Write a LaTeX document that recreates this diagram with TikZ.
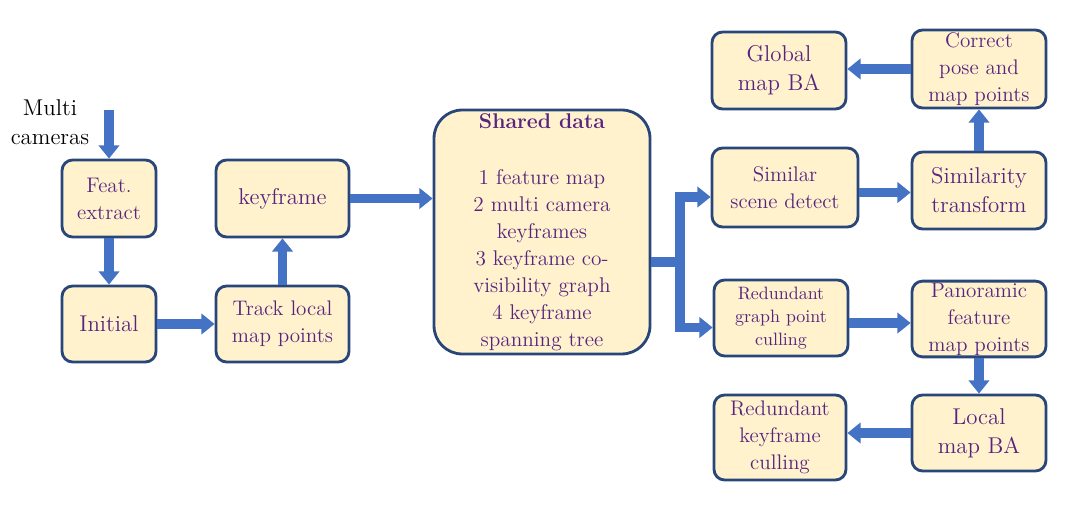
\documentclass[tikz,border=0pt]{standalone}
\usepackage{fontspec}
\usetikzlibrary{arrows.meta,positioning}
\definecolor{flowedge}{RGB}{40,70,122}
\definecolor{flowfill}{RGB}{255,242,204}
\definecolor{flowarrow}{RGB}{68,114,196}
\definecolor{flowtext}{RGB}{88,36,128}
\tikzset{
  stage/.style={
    draw=flowedge, line width=1.6pt, rounded corners=6pt, fill=flowfill,
    align=center, inner sep=1pt, text=flowtext
  },
  bigtxt/.style={stage, font=\fontsize{13}{16.5}\selectfont},
  midtxt/.style={stage, font=\fontsize{12}{15.3}\selectfont},
  smalltxt/.style={stage, font=\fontsize{10.2}{13}\selectfont},
  shaft/.style={draw=flowarrow, line width=5.4pt},
  blk/.style={shaft, -{Triangle[length=7.5pt,width=11.5pt]}},
  every picture/.append style={line join=miter}
}
\begin{document}
\begin{tikzpicture}[x=0.02cm, y=-0.02cm]
  \useasboundingbox (0,0) rectangle (1080,510);
  % input
  \node[font=\fontsize{13}{16.5}\selectfont, align=center] (cams) at (50,122) {Multi\\cameras};
  % tracking side
  \node[midtxt, minimum width=1.88cm, minimum height=1.54cm] (feat) at (109,198.5) {Feat.\\extract};
  \node[bigtxt, minimum width=1.88cm, minimum height=1.52cm] (init) at (109,324) {Initial};
  \node[midtxt, minimum width=2.66cm, minimum height=1.52cm] (track) at (282.5,324) {Track local\\map points};
  \node[bigtxt, minimum width=2.66cm, minimum height=1.54cm] (key) at (282.5,198.5) {keyframe};
  % shared map
  \node[stage, rounded corners=16pt, font=\fontsize{12.1}{15.3}\selectfont,
        minimum width=4.32cm, minimum height=4.88cm] (shared) at (542,232)
    {\textbf{Shared data}\\[17pt]1 feature map\\2 multi camera\\keyframes\\3 keyframe co-\\visibility graph\\4 keyframe\\spanning tree};
  % loop closing
  \node[midtxt, minimum width=2.92cm, minimum height=1.58cm] (simd) at (785,187.5) {Similar\\scene detect};
  \node[bigtxt, minimum width=2.68cm, minimum height=1.54cm] (simt) at (979,190.5) {Similarity\\transform};
  \node[midtxt, minimum width=2.68cm, minimum height=1.56cm] (corr) at (979,69) {Correct\\pose and\\map points};
  \node[bigtxt, minimum width=2.68cm, minimum height=1.54cm] (gba) at (779,70.5) {Global\\map BA};
  % local mapping
  \node[smalltxt, minimum width=2.68cm, minimum height=1.52cm] (rgpc) at (781,318) {Redundant\\graph point\\culling};
  \node[midtxt, minimum width=2.68cm, minimum height=1.48cm] (pano) at (979,319) {Panoramic\\feature\\map points};
  \node[bigtxt, minimum width=2.68cm, minimum height=1.52cm] (lba) at (979,433) {Local\\map BA};
  \node[midtxt, minimum width=2.64cm, minimum height=1.70cm] (rkc) at (780,437.5) {Redundant\\keyframe\\culling};
  \coordinate (camin) at (109,110);
  \coordinate (fork) at (680,262);
  % connectors
  \draw[blk] (camin) -- (feat.north);
  \draw[blk] (feat) -- (init);
  \draw[blk] (init) -- (track);
  \draw[blk] (track.north) -- (key.south);
  \draw[blk] (key.east) -- (key.east -| shared.west);
  \draw[shaft] (fork -| shared.east) -- (fork);
  \draw[blk] (fork) |- ([yshift=-0.19cm]simd.west);
  \draw[blk] (fork) |- ([yshift=-0.19cm]rgpc.west);
  \draw[blk] ([yshift=-0.1cm]simd.east) -- ([yshift=-0.1cm]simd.east -| simt.west);
  \draw[blk] (simt.north) -- (corr.south);
  \draw[blk] (corr.west) -- (corr.west -| gba.east);
  \draw[blk] ([yshift=-0.1cm]rgpc.east) -- ([yshift=-0.1cm]rgpc.east -| pano.west);
  \draw[blk] (pano.south) -- (lba.north);
  \draw[blk] (lba.west) -- (lba.west -| rkc.east);
\end{tikzpicture}
\end{document}
